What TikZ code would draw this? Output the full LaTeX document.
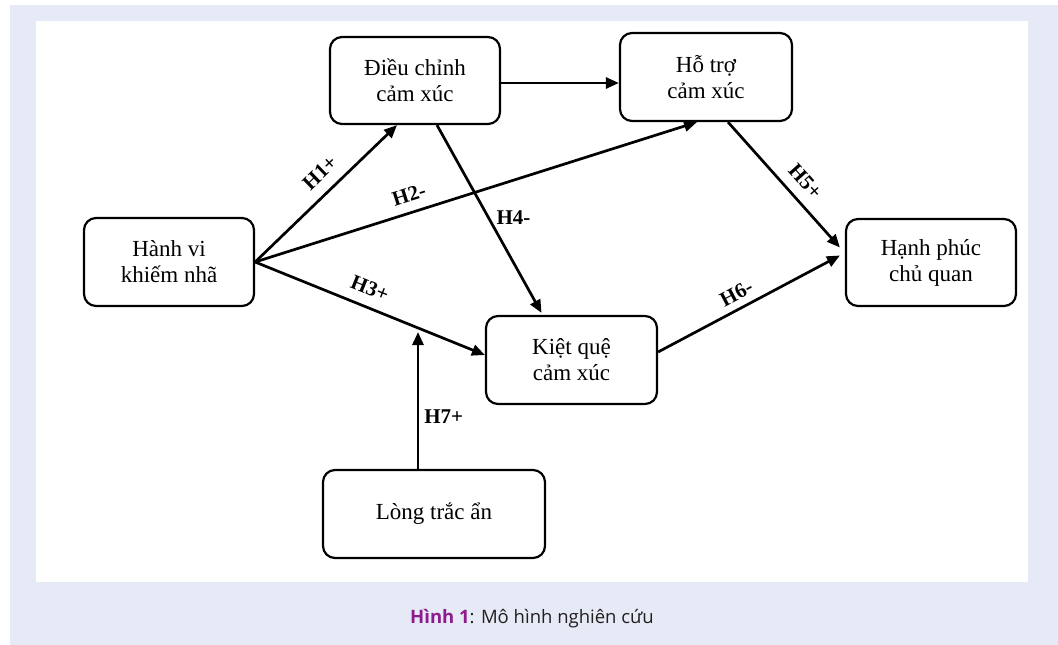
\documentclass[tikz,border=0pt]{standalone}
\usepackage{fontspec}
\setmainfont{Liberation Serif}
\newfontfamily\capfont{Open Sans}
\usetikzlibrary{arrows.meta,calc}
\definecolor{bgblue}{RGB}{230,234,246}
\definecolor{capmag}{RGB}{142,27,142}
\definecolor{captext}{RGB}{35,31,32}
\begin{document}
\begin{tikzpicture}[x=1pt,y=-1pt,
  box/.style={draw,line width=2.2pt,rounded corners=12pt,align=center,
    font=\fontsize{23}{26}\selectfont,inner sep=0pt},
  arr/.style={line width=2.7pt,-{Triangle[length=13pt,width=11pt]}},
  lab/.style={font=\fontsize{21}{24}\selectfont\bfseries,inner sep=1pt}]
\useasboundingbox (0,0) rectangle (1058,645);
\fill[bgblue] (10,5) rectangle (1058,645);
\fill[white] (36,21) rectangle (1028,582);
% nodes
\node[box,minimum width=170pt,minimum height=87pt] (dc) at (415,80.5) {Điều chỉnh\\cảm xúc};
\node[box,minimum width=172pt,minimum height=88pt] (hs) at (706,77) {Hỗ trợ\\cảm xúc};
\node[box,minimum width=170pt,minimum height=88pt] (hv) at (169,262) {Hành vi\\khiếm nhã};
\node[box,minimum width=170pt,minimum height=87pt] (hp) at (931,262.5) {Hạnh phúc\\chủ quan};
\node[box,minimum width=171pt,minimum height=88pt] (kq) at (571.5,360) {Kiệt quệ\\cảm xúc};
\node[box,minimum width=222pt,minimum height=88pt] (lt) at (434,514) {Lòng trắc ẩn};
\coordinate (h7end) at (418,332);
% connectors
\draw[arr] (hv.east) -- node[lab,sloped,above=10pt,pos=.55] (l1) {H1+} ($(dc.south)+(-18,0)$);
\draw[arr] (hv.east) -- node[lab,sloped,above=8pt,pos=.36] (l2) {H2-} ($(hs.south)+(-9,0)$);
\draw[arr] (hv.east) -- node[lab,sloped,above=9pt,pos=.47] (l3) {H3+} ($(kq.west)+(0,-5)$);
\draw[arr] ($(dc.south)+(22,0)$) -- node[lab,right=6pt,pos=.49] (l4) {H4-} ($(kq.north)+(-30,-2)$);
\draw[arr] ($(dc.east)+(0,2.5)$) -- ($(hs.west)+(0,6)$);
\draw[arr] ($(hs.south)+(22,0)$) -- node[lab,sloped,above=9pt,pos=.57] (l5) {H5+} ($(hp.west)+(-5,-15)$);
\draw[arr] ($(kq.east)+(0,-8)$) -- node[lab,sloped,above=6pt,pos=.47] (l6) {H6-} ($(hp.west)+(-5,-7)$);
\draw[arr] ($(lt.north)+(-16,0)$) -- node[lab,right=4pt,pos=.38] (l7) {H7+} (h7end);
% caption
\node[font=\capfont\fontsize{18.5}{22}\selectfont,text=captext,inner sep=0pt] (cap) at (532,619)
  {\textcolor{capmag}{\bfseries Hình 1}: Mô hình nghiên cứu};
\end{tikzpicture}
\end{document}
